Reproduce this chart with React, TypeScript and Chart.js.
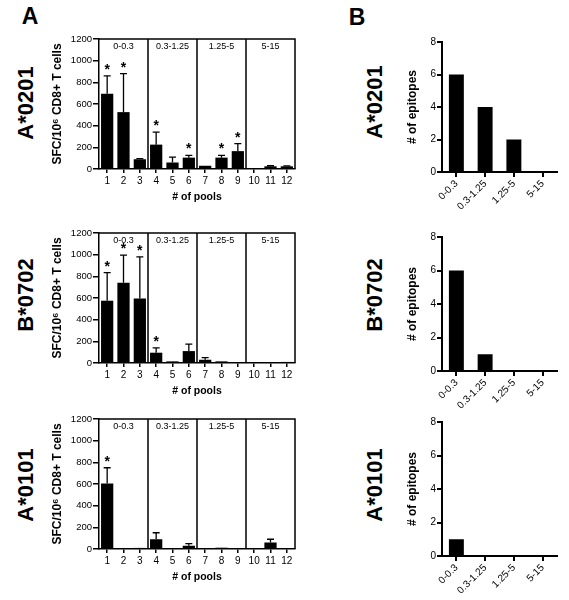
import React, { useEffect, useRef } from 'react';
import { Chart, registerables } from 'chart.js';
Chart.register(...registerables);

const FONT = "'Liberation Sans', Arial, Helvetica, sans-serif";
Chart.defaults.font.family = FONT;
Chart.defaults.color = '#000';

// ---------- data ----------
const pools = ['1', '2', '3', '4', '5', '6', '7', '8', '9', '10', '11', '12'];
const groups = ['0-0.3', '0.3-1.25', '1.25-5', '5-15'];
const sfcTicks = [0, 200, 400, 600, 800, 1000, 1200];
const epiTicks = [0, 2, 4, 6, 8];

const a0201Mean = [695, 525, 90, 225, 60, 105, 30, 105, 165, 5, 25, 25];
const a0201Err = [165, 355, 5, 115, 50, 20, 0, 20, 70, 0, 5, 3];
const a0201Sig = [1, 1, 0, 1, 0, 1, 0, 1, 1, 0, 0, 0];

const b0702Mean = [575, 740, 595, 95, 15, 110, 30, 15, 8, 5, 3, 10];
const b0702Err = [260, 255, 385, 45, 0, 65, 20, 0, 0, 0, 0, 0];
const b0702Sig = [1, 1, 1, 1, 0, 0, 0, 0, 0, 0, 0, 0];

const a0101Mean = [605, 5, 10, 90, 5, 30, 8, 12, 3, 0, 60, 3];
const a0101Err = [145, 0, 0, 60, 0, 20, 0, 0, 0, 0, 30, 0];
const a0101Sig = [1, 0, 0, 0, 0, 0, 0, 0, 0, 0, 0, 0];

const epiA0201 = [6, 4, 2, 0];
const epiB0702 = [6, 1, 0, 0];
const epiA0101 = [1, 0, 0, 0];

// ---------- plugin for panel A decorations ----------
const poolDeco = {
  id: 'poolDeco',
  afterDatasetsDraw(chart: any, _args: any, opts: any) {
    if (!opts || !opts.err) return;
    const { ctx, chartArea: a, scales } = chart;
    const x = scales.x;
    const y = scales.y;
    const means: number[] = chart.data.datasets[0].data;
    const per = chart.data.labels.length / opts.groups.length;
    ctx.save();
    ctx.strokeStyle = '#000';
    ctx.lineWidth = 1.5;
    ctx.beginPath();
    ctx.moveTo(a.left, a.top);
    ctx.lineTo(a.right, a.top);
    ctx.lineTo(a.right, a.bottom);
    for (let g = 1; g < opts.groups.length; g++) {
      const px = (x.getPixelForValue(g * per - 1) + x.getPixelForValue(g * per)) / 2;
      ctx.moveTo(px, a.top);
      ctx.lineTo(px, a.bottom);
    }
    ctx.stroke();

    // group labels
    ctx.fillStyle = '#000';
    ctx.font = `9px ${FONT}`;
    ctx.textAlign = 'center';
    ctx.textBaseline = 'middle';
    opts.groups.forEach((gl: string, g: number) => {
      const px = (x.getPixelForValue(g * per) + x.getPixelForValue(g * per + per - 1)) / 2;
      ctx.fillText(gl, px, a.top + 8);
    });

    // error bars + asterisks
    const meta = chart.getDatasetMeta(0);
    ctx.lineWidth = 1.3;
    means.forEach((m: number, i: number) => {
      const bar = meta.data[i];
      const xc = bar.x;
      const yBar = y.getPixelForValue(m);
      let yTop = yBar;
      const e = opts.err[i];
      if (e > 0) {
        yTop = y.getPixelForValue(m + e);
        ctx.beginPath();
        ctx.moveTo(xc, yBar);
        ctx.lineTo(xc, yTop);
        ctx.moveTo(xc - 3.5, yTop);
        ctx.lineTo(xc + 3.5, yTop);
        ctx.stroke();
      }
      if (opts.sig[i]) {
        ctx.font = `bold 14px ${FONT}`;
        ctx.textBaseline = 'alphabetic';
        ctx.fillText('*', xc, yTop - 2);
      }
    });
    ctx.restore();
  },
};

function makePoolConfig(mean: number[], err: number[], sig: number[]): any {
  return {
    type: 'bar',
    data: {
      labels: pools,
      datasets: [
        {
          data: mean,
          backgroundColor: '#000',
          borderWidth: 0,
          barPercentage: 0.75,
          categoryPercentage: 1,
        },
      ],
    },
    plugins: [poolDeco],
    options: {
      animation: false,
      responsive: false,
      maintainAspectRatio: false,
      layout: { padding: { left: 10, right: 10, top: 9, bottom: 0 } },
      plugins: {
        legend: { display: false },
        tooltip: { enabled: false },
        poolDeco: { err, sig, groups },
      },
      scales: {
        x: {
          offset: true,
          grid: {
            offset: false,
            drawOnChartArea: false,
            drawTicks: true,
            tickLength: 4,
            color: '#000',
            lineWidth: 1.5,
          },
          border: { display: true, color: '#000', width: 1.5 },
          ticks: { font: { size: 10 }, color: '#000', padding: 2, maxRotation: 0, autoSkip: false },
          title: {
            display: true,
            text: '# of pools',
            font: { size: 10.5, weight: 'bold' },
            color: '#000',
            padding: 0,
          },
          afterFit: (s: any) => {
            s.height = 34;
          },
        },
        y: {
          min: 0,
          max: 1200,
          afterBuildTicks: (s: any) => {
            s.ticks = sfcTicks.map((v) => ({ value: v }));
          },
          grid: {
            drawOnChartArea: false,
            drawTicks: true,
            tickLength: 6,
            color: '#000',
            lineWidth: 1.5,
          },
          border: { display: true, color: '#000', width: 1.5 },
          ticks: {
            font: { size: 9.5 },
            color: '#000',
            padding: 1,
            callback: (v: any) => String(v),
          },
          title: {
            display: true,
            text: 'SFC/10⁶ CD8+ T cells',
            font: { size: 12, weight: 'bold' },
            color: '#000',
            padding: 0,
          },
          afterFit: (s: any) => {
            s.width = 49;
          },
        },
      },
    },
  };
}

function makeEpiConfig(vals: number[]): any {
  return {
    type: 'bar',
    data: {
      labels: groups,
      datasets: [
        {
          data: vals,
          backgroundColor: '#000',
          borderWidth: 0,
          barPercentage: 0.52,
          categoryPercentage: 1,
        },
      ],
    },
    options: {
      animation: false,
      responsive: false,
      maintainAspectRatio: false,
      layout: { padding: { left: 5, right: 8, top: 8, bottom: 0 } },
      plugins: { legend: { display: false }, tooltip: { enabled: false } },
      scales: {
        x: {
          offset: true,
          grid: {
            offset: false,
            drawOnChartArea: false,
            drawTicks: true,
            tickLength: 5,
            color: '#000',
            lineWidth: 2,
          },
          border: { display: true, color: '#000', width: 2 },
          ticks: {
            font: { size: 10 },
            color: '#000',
            padding: 1,
            minRotation: 45,
            maxRotation: 45,
            autoSkip: false,
          },
          afterFit: (s: any) => {
            s.height = 40;
          },
        },
        y: {
          min: 0,
          max: 8,
          afterBuildTicks: (s: any) => {
            s.ticks = epiTicks.map((v) => ({ value: v }));
          },
          grid: {
            drawOnChartArea: false,
            drawTicks: true,
            tickLength: 5,
            color: '#000',
            lineWidth: 2,
          },
          border: { display: true, color: '#000', width: 2 },
          ticks: { font: { size: 10 }, color: '#000', padding: 1 },
          title: {
            display: true,
            text: '# of epitopes',
            font: { size: 12, weight: 'bold' },
            color: '#000',
            padding: 0,
          },
          afterFit: (s: any) => {
            s.width = 37;
          },
        },
      },
    },
  };
}

function ChartBox(props: { left: number; top: number; width: number; height: number; config: any }) {
  const ref = useRef<HTMLCanvasElement | null>(null);
  useEffect(() => {
    if (!ref.current) return;
    const chart = new Chart(ref.current, props.config);
    return () => chart.destroy();
  }, []);
  return (
    <canvas
      ref={ref}
      width={props.width}
      height={props.height}
      style={{
        position: 'absolute',
        left: props.left,
        top: props.top,
        width: props.width,
        height: props.height,
      }}
    />
  );
}

function Label(props: { x: number; y: number; text: string; size: number; rotate?: boolean }) {
  return (
    <div
      style={{
        position: 'absolute',
        left: props.x,
        top: props.y,
        transform: `translate(-50%, -50%)${props.rotate ? ' rotate(-90deg)' : ''}`,
        font: `bold ${props.size}px ${FONT}`,
        whiteSpace: 'nowrap',
        lineHeight: 1,
        color: '#000',
      }}
    >
      {props.text}
    </div>
  );
}

export default function App() {
  return (
    <div
      style={{
        position: 'absolute',
        left: 0,
        top: 0,
        width: 569,
        height: 600,
        background: '#fff',
        overflow: 'hidden',
      }}
    >
      <Label x={30} y={16} text="A" size={23} />
      <Label x={357} y={17} text="B" size={23} />

      <Label x={26} y={103} text="A*0201" size={22} rotate />
      <Label x={26} y={295} text="B*0702" size={22} rotate />
      <Label x={26} y={485} text="A*0101" size={22} rotate />

      <Label x={375} y={102} text="A*0201" size={22} rotate />
      <Label x={375} y={295} text="B*0702" size={22} rotate />
      <Label x={375} y={485} text="A*0101" size={22} rotate />

      <ChartBox left={40} top={30} width={265} height={173} config={makePoolConfig(a0201Mean, a0201Err, a0201Sig)} />
      <ChartBox left={40} top={224} width={265} height={173} config={makePoolConfig(b0702Mean, b0702Err, b0702Sig)} />
      <ChartBox left={40} top={410} width={265} height={173} config={makePoolConfig(a0101Mean, a0101Err, a0101Sig)} />

      <ChartBox left={400} top={34} width={165} height={178} config={makeEpiConfig(epiA0201)} />
      <ChartBox left={400} top={229} width={165} height={182} config={makeEpiConfig(epiB0702)} />
      <ChartBox left={400} top={414} width={165} height={182} config={makeEpiConfig(epiA0101)} />
    </div>
  );
}
